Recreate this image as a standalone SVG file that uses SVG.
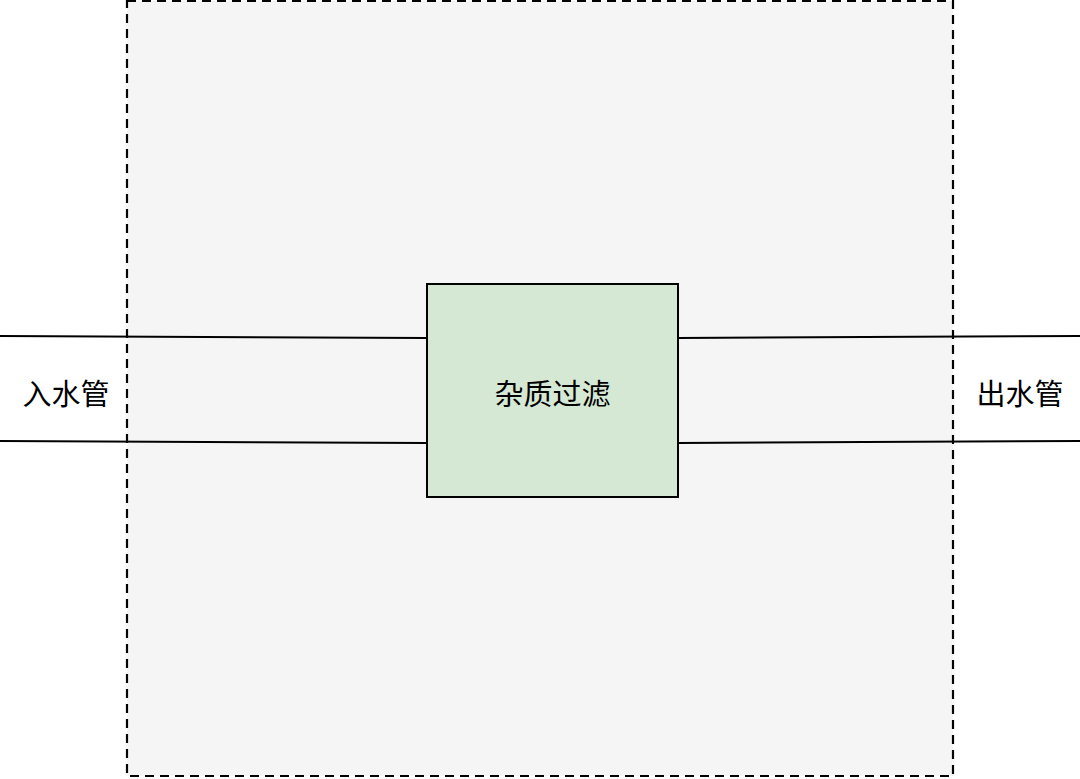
<svg xmlns="http://www.w3.org/2000/svg" width="1080" height="779" viewBox="0 0 1080 779">
<style>
.t{font-family:"Noto Sans CJK SC","Noto Sans",sans-serif;font-size:29px;fill:#000;text-anchor:middle;dominant-baseline:central}
.pipe{stroke:#000;stroke-width:2;fill:none}
</style>
<rect width="1080" height="779" fill="#ffffff"/>
<g id="boundary">
<rect x="127" y="1" width="826" height="775" fill="#f5f5f5" stroke="#000" stroke-width="2.2" stroke-dasharray="9 6"/>
</g>
<g id="connectors">
<path class="pipe" d="M0 336 L427 338"/>
<path class="pipe" d="M0 441 L427 443"/>
<path class="pipe" d="M678 338 L1080 336"/>
<path class="pipe" d="M678 443 L1080 441"/>
</g>
<g id="filter">
<rect x="427" y="284" width="251" height="213" fill="#d5e8d4" stroke="#000" stroke-width="2"/>
<text class="t" x="552.5" y="392">杂质过滤</text>
</g>
<g id="inlet">
<text class="t" x="66" y="392">入水管</text>
</g>
<g id="outlet">
<text class="t" x="1020" y="392">出水管</text>
</g>
</svg>
